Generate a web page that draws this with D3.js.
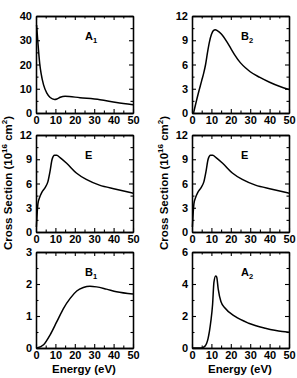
<!DOCTYPE html>
<html>
<head>
<meta charset="utf-8">
<script src="https://cdn.jsdelivr.net/npm/d3@7"></script>
<style>
  body { margin: 0; background: #fff; }
  text { font-family: "Liberation Sans", Arial, sans-serif; font-weight: bold; fill: #000; }
</style>
</head>
<body>
<div class="chart"></div>
<script>
// energy (eV) / cross section values
const energyA1 = [0.3, 1, 1.9, 2.6, 3.9, 5.6, 7.3, 9.6, 10.8, 12.5, 15, 22.7, 33, 41.5, 50];
const csA1 = [36.3, 28.8, 20.5, 16.4, 11.6, 8.2, 6.4, 5.6, 5.8, 6.5, 6.9, 6.3, 5.5, 4.3, 3.4];

const energyB2 = [0.8, 3, 5, 6, 7, 8, 9, 10, 11, 12, 13, 15, 18, 20, 22, 25, 28, 30, 35, 40, 45, 50];
const csB2 = [0, 2.2, 4.0, 4.9, 6.0, 7.5, 8.8, 9.7, 10.2, 10.3, 10.2, 9.8, 8.8, 8.0, 7.2, 6.2, 5.5, 5.1, 4.4, 3.8, 3.3, 2.9];

const energyE = [0.2, 1, 1.9, 3, 4.7, 6.1, 7.3, 8.3, 9.5, 10.7, 12.4, 15.8, 20.8, 25.9, 32.7, 41.2, 50];
const csE = [0.6, 3.5, 4.3, 4.9, 5.5, 6.2, 7.6, 9.0, 9.5, 9.5, 9.2, 8.5, 7.3, 6.5, 5.8, 5.3, 4.8];

const energyB1 = [0.5, 3.9, 7.3, 10.8, 14.2, 17.6, 21, 24.4, 27.8, 31.2, 36.3, 41.5, 50];
const csB1 = [0, 0.1, 0.41, 0.83, 1.24, 1.55, 1.78, 1.89, 1.93, 1.91, 1.84, 1.76, 1.69];

const energyA2 = [0, 4.9, 6.6, 8.3, 9.7, 10.6, 11.3, 12.2, 12.7, 13.5, 14.9, 17, 22.2, 29.2, 37.8, 46.5, 50];
const csA2 = [0, 0, 0.1, 0.6, 1.66, 2.7, 4.1, 4.5, 4.45, 3.7, 2.9, 2.5, 1.97, 1.55, 1.24, 1.03, 0.99];

const symmetry = ["A", "B", "E", "E", "B", "A"];
const symmetrySub = ["1", "2", "", "", "1", "2"];
const yMaxes = [40, 12, 12, 12, 3, 6];
const yTickSteps = [10, 3, 3, 3, 1, 2];
const xTicks = [0, 10, 20, 30, 40, 50];

const series = [
  [energyA1, csA1], [energyB2, csB2], [energyE, csE],
  [energyE, csE], [energyB1, csB1], [energyA2, csA2]
];

const W = 297, H = 378;
const cols = [[36, 133], [192, 289]];
const rows = [[16, 113], [135, 232], [252, 348]];

const svg = d3.select('.chart')
  .append('svg')
  .attr('width', W)
  .attr('height', H);

series.forEach(([xs, ys], i) => {
  const [x0, x1] = cols[i % 2];
  const [y0, y1] = rows[Math.floor(i / 2)];
  const pw = x1 - x0, ph = y1 - y0;

  const g = svg.append('g').attr('transform', `translate(${x0}, ${y0})`);

  const xScale = d3.scaleLinear().domain([0, 50]).range([0, pw]);
  const yScale = d3.scaleLinear().domain([0, yMaxes[i]]).range([ph, 0]);

  const step = yTickSteps[i];
  const yMajor = d3.range(0, yMaxes[i] + step / 2, step);
  const yMinor = d3.range(step / 2, yMaxes[i], step);
  const xMinor = d3.range(5, 50, 10);

  const major = 4, minor = 2.5;

  // bottom / left axes carry labels, top / right only ticks, all pointing in
  const axes = [
    [d3.axisBottom(xScale).tickValues(xTicks).tickSizeInner(-major), `translate(0, ${ph})`, 'x'],
    [d3.axisBottom(xScale).tickValues(xMinor).tickSizeInner(-minor), `translate(0, ${ph})`, null],
    [d3.axisTop(xScale).tickValues(xTicks).tickSizeInner(-major), null, null],
    [d3.axisTop(xScale).tickValues(xMinor).tickSizeInner(-minor), null, null],
    [d3.axisLeft(yScale).tickValues(yMajor).tickSizeInner(-major), null, 'y'],
    [d3.axisLeft(yScale).tickValues(yMinor).tickSizeInner(-minor), null, null],
    [d3.axisRight(yScale).tickValues(yMajor).tickSizeInner(-major), `translate(${pw}, 0)`, null],
    [d3.axisRight(yScale).tickValues(yMinor).tickSizeInner(-minor), `translate(${pw}, 0)`, null]
  ];

  axes.forEach(([axis, tr, labels]) => {
    axis.tickSizeOuter(0).tickPadding(labels === 'x' ? 3 : 4).tickFormat(d3.format('d'));
    const a = g.append('g').call(axis);
    if (tr) a.attr('transform', tr);
    a.select('.domain').attr('stroke', '#000').attr('stroke-width', 1.3);
    a.selectAll('.tick line').attr('stroke', '#000').attr('stroke-width', 1.1);
    if (labels) {
      a.selectAll('.tick text').style('font-size', '11px').attr('fill', '#000');
    } else {
      a.selectAll('.tick text').remove();
    }
  });

  const line = d3.line()
    .x((d, k) => xScale(xs[k]))
    .y(d => yScale(d))
    .curve(d3.curveMonotoneX);

  g.append('path')
    .datum(ys)
    .attr('d', line)
    .attr('fill', 'none')
    .attr('stroke', '#000')
    .attr('stroke-width', 1.5);

  const lab = g.append('text')
    .attr('x', 49)
    .attr('y', 24)
    .style('font-size', '11px')
    .text(symmetry[i]);
  if (symmetrySub[i]) {
    lab.append('tspan')
      .attr('dy', 3)
      .style('font-size', '7.5px')
      .text(symmetrySub[i]);
  }
});

// axis titles
[84, 240].forEach(cx => {
  svg.append('text')
    .attr('x', cx)
    .attr('y', 373)
    .attr('text-anchor', 'middle')
    .style('font-size', '11.5px')
    .text('Energy (eV)');
});

[12, 168].forEach(tx => {
  const t = svg.append('text')
    .attr('transform', `translate(${tx}, 183) rotate(-90)`)
    .attr('text-anchor', 'middle')
    .style('font-size', '11.5px');
  t.append('tspan').text('Cross Section (10');
  t.append('tspan').attr('dy', -5).style('font-size', '8px').text('16');
  t.append('tspan').attr('dy', 5).text(' cm');
  t.append('tspan').attr('dy', -5).style('font-size', '8px').text('2');
  t.append('tspan').attr('dy', 5).text(')');
});
</script>
</body>
</html>
